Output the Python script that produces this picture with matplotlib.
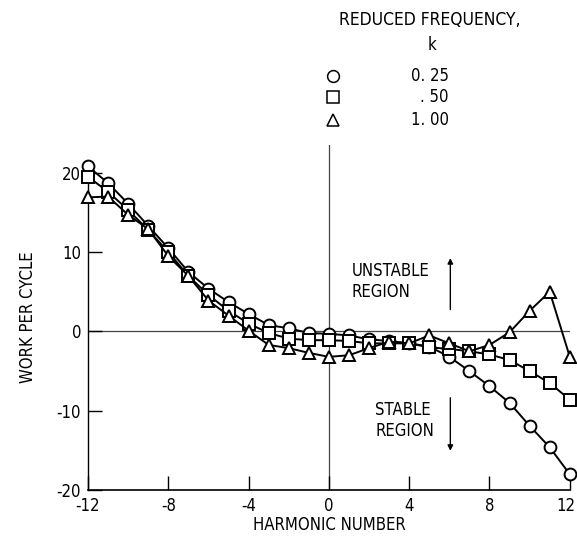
import matplotlib
matplotlib.use("Agg")
import matplotlib.pyplot as plt
import matplotlib.transforms as mtransforms
import numpy as np

plt.rcParams['font.family'] = ['DejaVu Sans']
plt.rcParams['font.stretch'] = 'condensed'
plt.rcParams['axes.unicode_minus'] = False

harmonic = list(range(-12, 13))
work_k025 = [20.8, 18.7, 16.1, 13.3, 10.5, 7.5, 5.4, 3.7, 2.2, 0.8, 0.4, -0.2, -0.3,
             -0.5, -1.0, -1.2, -1.5, -1.9, -3.2, -5.0, -6.9, -9.0, -11.9, -14.6, -18.0]
work_k050 = [19.5, 17.6, 15.3, 12.8, 10.0, 7.0, 4.6, 2.6, 1.0, -0.2, -0.9, -1.1, -1.1,
             -1.2, -1.5, -1.5, -1.5, -2.0, -2.2, -2.5, -2.9, -3.6, -5.0, -6.5, -8.6]
work_k100 = [16.9, 17.0, 14.7, 12.9, 9.5, 7.0, 3.9, 2.0, 0.1, -1.7, -2.1, -2.7, -3.2,
             -3.0, -2.1, -1.3, -1.5, -0.5, -1.5, -2.5, -1.7, -0.1, 2.6, 5.0, -3.2]

k_labels = ['0. 25', '. 50', '1. 00']
x_ticks = [-12, -8, -4, 0, 4, 8, 12]
y_ticks = [-20, -10, 0, 10, 20]

fig = plt.figure(figsize=(5.77, 5.41), dpi=100)
ax = fig.add_axes([0.1525, 0.094, 0.835, 0.638])

series = [(work_k025, 'o'), (work_k050, 's'), (work_k100, '^')]
for vals, m in series:
    ax.plot(harmonic, vals, color='black', lw=1.4, marker=m, markersize=8.5,
            markerfacecolor='white', markeredgecolor='black', markeredgewidth=1.4,
            clip_on=False, zorder=3)

ax.set_xlim(-12, 12)
ax.set_ylim(-20, 23.5)
ax.axhline(0, color='#444444', lw=0.9, zorder=1)
ax.axvline(0, color='#444444', lw=0.9, zorder=1)

for s in ['top', 'right']:
    ax.spines[s].set_visible(False)
ax.spines['left'].set_bounds(-20, 20)
ax.spines['left'].set_linewidth(1.0)
ax.spines['bottom'].set_linewidth(1.2)

ax.set_xticks(x_ticks)
ax.set_yticks(y_ticks)
ax.set_xticklabels([str(v) for v in x_ticks])
ax.set_yticklabels([str(v) for v in y_ticks])
ax.tick_params(direction='in', length=10, width=1.0, labelsize=12, pad=5)

# keep the last x tick label inside the canvas
last = ax.get_xticklabels()[-1]
last.set_transform(last.get_transform() +
                   mtransforms.ScaledTranslation(-3 / 72, 0, fig.dpi_scale_trans))

ax.set_xlabel('HARMONIC NUMBER', fontsize=12, labelpad=1)
ax.set_ylabel('WORK PER CYCLE', fontsize=12, labelpad=14)

# stability annotations
ax.text(1.15, 7.6, 'UNSTABLE', fontsize=12, va='center', ha='left')
ax.text(1.15, 5.0, 'REGION', fontsize=12, va='center', ha='left')
ax.annotate('', xy=(6.05, 9.6), xytext=(6.05, 2.4),
            arrowprops=dict(arrowstyle='-|>', color='black', lw=1.0, mutation_scale=8))
ax.text(2.3, -9.9, 'STABLE', fontsize=12, va='center', ha='left')
ax.text(2.3, -12.5, 'REGION', fontsize=12, va='center', ha='left')
ax.annotate('', xy=(6.05, -15.4), xytext=(6.05, -8.0),
            arrowprops=dict(arrowstyle='-|>', color='black', lw=1.0, mutation_scale=8))

# key
fig.text(430 / 577, 1 - 20 / 541, 'REDUCED FREQUENCY,', fontsize=12.5, ha='center', va='center')
fig.text(432 / 577, 1 - 45 / 541, 'k', fontsize=12, ha='center', va='center')
key_y = [76, 97, 120]
for (vals, m), lab, yy in zip(series, k_labels, key_y):
    fig.lines.append(plt.Line2D([333 / 577], [1 - yy / 541], marker=m, markersize=8.5,
                                markerfacecolor='white', markeredgecolor='black',
                                markeredgewidth=1.1, transform=fig.transFigure))
    fig.text(449 / 577, 1 - yy / 541, lab, fontsize=12, ha='right', va='center')

fig.savefig('out.png', dpi=100, facecolor='white')
